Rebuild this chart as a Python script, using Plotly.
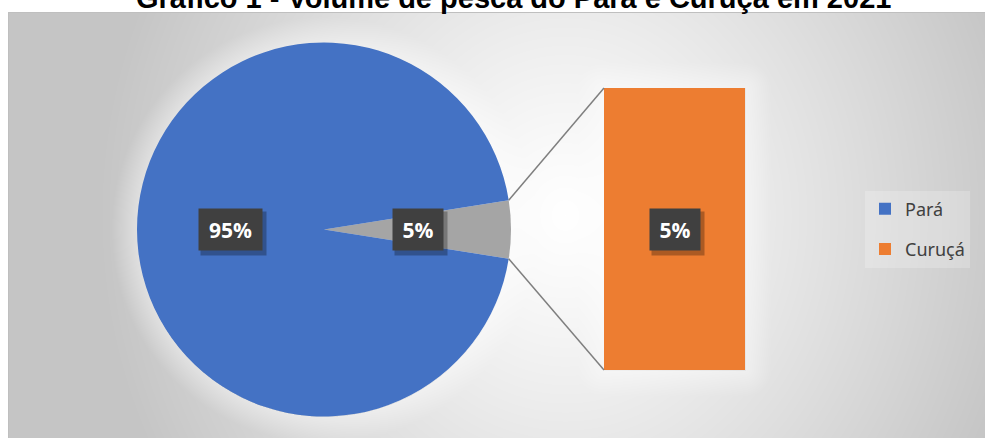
import base64
import struct
import zlib

import numpy as np
import plotly.graph_objects as go

# ---------------- data ----------------
TITLE = "Gráfico 1 - Volume de pesca do Pará e Curuçá em 2021"
pie_labels = ["Outros", "Pará"]          # gray aggregate slice + main slice
pie_values = [5, 95]
pie_colors = ["#A5A5A5", "#4472C4"]
bar_labels = ["Curuçá"]
bar_values = [5]
bar_color = "#ED7D31"
legend_names = ["Pará", "Curuçá"]

# ---------------- layout geometry (pixels) ----------------
W, H = 985, 438
PIE_CX, PIE_CY, PIE_R = 324.0, 229.5, 187.0
BAR_X0, BAR_X1, BAR_Y0, BAR_Y1 = 604.0, 745.0, 88.0, 370.0
AREA_X0, AREA_Y0 = 8, 12


def px_x(x):
    return x / W


def px_y(y):
    return 1 - y / H


# ---------------- background gradient image ----------------
yy, xx = np.mgrid[0:H, 0:W].astype(float)
t = np.sqrt(((xx - 565) / 470) ** 2 + ((yy - 215) / 520) ** 2)
t = np.clip(t, 0, 1)
g = 255 - 58 * t ** 1.15
# soft light halo around pie and bar
d_pie = np.sqrt((xx - PIE_CX) ** 2 + (yy - PIE_CY) ** 2) - PIE_R
glow = np.clip(1 - d_pie / 26, 0, 1) * (d_pie > 0)
dx = np.maximum(np.maximum(BAR_X0 - xx, 0), xx - BAR_X1)
dy = np.maximum(np.maximum(BAR_Y0 - yy, 0), yy - BAR_Y1)
d_bar = np.sqrt(dx ** 2 + dy ** 2)
glow = np.maximum(glow, np.clip(1 - d_bar / 26, 0, 1) * (d_bar > 0))
g = g + (255 - g) * 0.4 * glow
g[(xx < AREA_X0) | (yy < AREA_Y0)] = 255
img = np.repeat(np.clip(g, 0, 255).astype(np.uint8)[:, :, None], 3, axis=2)


def png_data_uri(arr):
    h, w, _ = arr.shape
    raw = b"".join(b"\x00" + arr[i].tobytes() for i in range(h))

    def chunk(tag, data):
        c = struct.pack(">I", len(data)) + tag + data
        return c + struct.pack(">I", zlib.crc32(tag + data) & 0xFFFFFFFF)

    png = b"\x89PNG\r\n\x1a\n"
    png += chunk(b"IHDR", struct.pack(">IIBBBBB", w, h, 8, 2, 0, 0, 0))
    png += chunk(b"IDAT", zlib.compress(raw, 9))
    png += chunk(b"IEND", b"")
    return "data:image/png;base64," + base64.b64encode(png).decode()


# ---------------- figure ----------------
fig = go.Figure()

other_share = pie_values[0] / sum(pie_values)
half_angle = 360 * other_share / 2

fig.add_trace(go.Pie(
    labels=pie_labels, values=pie_values, sort=False,
    direction="clockwise", rotation=90 - half_angle,
    marker=dict(colors=pie_colors, line=dict(width=0)),
    textinfo="none", hoverinfo="label+percent", showlegend=False,
    domain=dict(x=[px_x(PIE_CX - PIE_R), px_x(PIE_CX + PIE_R)],
                y=[px_y(PIE_CY + PIE_R), px_y(PIE_CY - PIE_R)]),
))

fig.add_trace(go.Scatter(
    x=[None], y=[None], mode="markers", name=legend_names[0],
    marker=dict(symbol="square", size=12, color=pie_colors[1]),
    legendgroup="a", showlegend=True,
))
fig.add_trace(go.Bar(
    x=bar_labels, y=bar_values, name=legend_names[1],
    marker=dict(color=bar_color, line=dict(width=0)),
    width=1, legendgroup="b", showlegend=True, hoverinfo="x+y",
))

# connector lines from the "other" slice edges to the bar corners
ang = np.deg2rad(half_angle)
ex = PIE_CX + PIE_R * np.cos(ang)
shapes = [
    dict(type="line", xref="paper", yref="paper",
         x0=px_x(ex), y0=px_y(PIE_CY - PIE_R * np.sin(ang)),
         x1=px_x(BAR_X0), y1=px_y(BAR_Y0),
         line=dict(color="#7F7F7F", width=1.5)),
    dict(type="line", xref="paper", yref="paper",
         x0=px_x(ex), y0=px_y(PIE_CY + PIE_R * np.sin(ang)),
         x1=px_x(BAR_X0), y1=px_y(BAR_Y1),
         line=dict(color="#7F7F7F", width=1.5)),
    dict(type="rect", xref="paper", yref="paper",
         x0=px_x(AREA_X0 + 0.5), y0=-0.05, x1=1.05, y1=px_y(AREA_Y0 + 0.5),
         line=dict(color="#BFBFBF", width=1), fillcolor="rgba(0,0,0,0)"),
]

# data labels
annotations = []
LABEL_FONT = dict(family="Open Sans", size=21, color="white")


def add_label(text, x, y, xref, yref, width):
    annotations.append(dict(
        text="", x=x, y=y, xref=xref, yref=yref, showarrow=False,
        width=width, height=41, bgcolor="rgba(0,0,0,0.28)",
        xshift=3, yshift=-4, xanchor="center", yanchor="middle"))
    annotations.append(dict(
        text=f"<b>{text}</b>", x=x, y=y, xref=xref, yref=yref,
        showarrow=False, width=width, height=41, bgcolor="#404040",
        font=LABEL_FONT, xanchor="center", yanchor="middle", borderpad=0))


total = sum(pie_values)
# pie labels at half radius along each slice's mid-angle
start = 90 - half_angle
for lab, val in zip(pie_labels, pie_values):
    mid = start + 360 * val / total / 2
    start += 360 * val / total
    a = np.deg2rad(mid)
    lx = PIE_CX + 0.5 * PIE_R * np.sin(a)
    ly = PIE_CY - 0.5 * PIE_R * np.cos(a)
    pct = round(100 * val / total)
    add_label(f"{pct}%", px_x(lx), px_y(ly), "paper", "paper",
              63 if pct >= 10 else 50)

for lab, val in zip(bar_labels, bar_values):
    pct = round(100 * val / total)
    add_label(f"{pct}%", lab, val / 2, "x", "y", 63 if pct >= 10 else 50)

# title (top clipped as in the reference)
annotations.append(dict(
    text=f"<b>{TITLE}</b>", x=px_x(513.5), y=px_y(-2.0), xref="paper",
    yref="paper", showarrow=False, xanchor="center", yanchor="middle",
    font=dict(family="Liberation Sans, Arial", size=29, color="black")))

fig.update_layout(
    width=W, height=H,
    margin=dict(l=0, r=0, t=0, b=0),
    paper_bgcolor="white", plot_bgcolor="rgba(0,0,0,0)",
    images=[dict(source=png_data_uri(img), xref="paper", yref="paper",
                 x=0, y=1, sizex=1, sizey=1, sizing="stretch",
                 xanchor="left", yanchor="top", layer="below")],
    xaxis=dict(type="category", domain=[px_x(BAR_X0), px_x(BAR_X1)],
               range=[-0.5, 0.5], visible=False, fixedrange=True),
    yaxis=dict(domain=[px_y(BAR_Y1), px_y(BAR_Y0)],
               range=[0, sum(bar_values)], visible=False, fixedrange=True),
    bargap=0,
    shapes=shapes,
    annotations=annotations,
    showlegend=True,
    legend=dict(x=px_x(865), y=px_y(229), xanchor="left", yanchor="middle",
                traceorder="grouped", tracegroupgap=14,
                bgcolor="rgba(255,255,255,0.22)",
                font=dict(family="Noto Sans", size=18, color="#404040"),
                itemwidth=30),
)

fig.write_html(
    "out.html",
    config={"displayModeBar": False},
    post_script="document.body.style.margin='0';"
                "document.body.style.overflow='hidden';",
)
